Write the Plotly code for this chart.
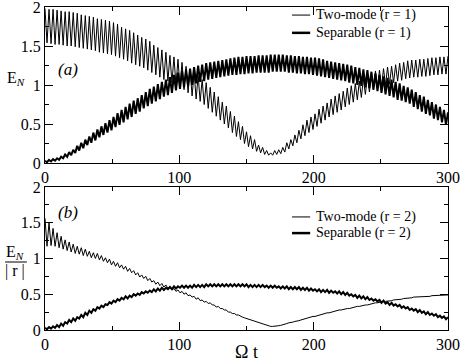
import numpy as np
import plotly.graph_objects as go
from plotly.subplots import make_subplots

# time grid: peaks sit on t = 0, 3, ..., 300 and troughs half way between
t = np.arange(0, 300.01, 1.5)

# (a) two-mode, r = 1 (thin)
two_mode_r1_peaks = [
    1.98, 1.97, 1.97, 1.96, 1.95, 1.94, 1.94, 1.93, 1.92, 1.90,
    1.89, 1.88, 1.87, 1.85, 1.84, 1.83, 1.82, 1.80, 1.78, 1.74,
    1.72, 1.70, 1.67, 1.64, 1.61, 1.59, 1.56, 1.51, 1.48, 1.45,
    1.42, 1.38, 1.36, 1.33, 1.29, 1.24, 1.20, 1.16, 1.12, 1.07,
    1.03, 0.97, 0.91, 0.85, 0.78, 0.73, 0.66, 0.60, 0.53, 0.47,
    0.40, 0.35, 0.30, 0.23, 0.20, 0.16, 0.13, 0.16, 0.17, 0.20,
    0.26, 0.30, 0.36, 0.42, 0.49, 0.55, 0.59, 0.63, 0.69, 0.73,
    0.77, 0.82, 0.86, 0.89, 0.92, 0.96, 0.99, 1.02, 1.05, 1.08,
    1.12, 1.15, 1.18, 1.19, 1.21, 1.23, 1.24, 1.26, 1.28, 1.29,
    1.31, 1.32, 1.32, 1.33, 1.33, 1.34, 1.35, 1.35, 1.36, 1.36,
    1.37]
two_mode_r1_troughs = [
    1.54, 1.53, 1.52, 1.52, 1.51, 1.50, 1.50, 1.49, 1.48, 1.47,
    1.46, 1.45, 1.44, 1.42, 1.41, 1.40, 1.39, 1.37, 1.35, 1.33,
    1.31, 1.28, 1.26, 1.24, 1.22, 1.19, 1.16, 1.13, 1.10, 1.07,
    1.05, 1.03, 1.00, 0.97, 0.94, 0.90, 0.86, 0.82, 0.79, 0.75,
    0.70, 0.65, 0.60, 0.55, 0.50, 0.45, 0.39, 0.34, 0.30, 0.25,
    0.21, 0.18, 0.15, 0.13, 0.11, 0.10, 0.10, 0.11, 0.12, 0.14,
    0.18, 0.22, 0.26, 0.31, 0.35, 0.39, 0.43, 0.47, 0.51, 0.55,
    0.59, 0.62, 0.65, 0.68, 0.72, 0.75, 0.78, 0.81, 0.84, 0.88,
    0.91, 0.94, 0.96, 0.98, 1.00, 1.01, 1.03, 1.05, 1.06, 1.08,
    1.09, 1.10, 1.10, 1.11, 1.11, 1.12, 1.13, 1.13, 1.14, 1.14]

# (a) separable, r = 1 (thick)
separable_r1_peaks = [
    0.03, 0.04, 0.05, 0.06, 0.08, 0.11, 0.14, 0.17, 0.22, 0.26,
    0.30, 0.34, 0.39, 0.43, 0.47, 0.51, 0.55, 0.59, 0.64, 0.68,
    0.72, 0.76, 0.80, 0.83, 0.87, 0.91, 0.95, 0.98, 1.01, 1.04,
    1.07, 1.10, 1.13, 1.16, 1.18, 1.20, 1.21, 1.23, 1.25, 1.26,
    1.28, 1.29, 1.30, 1.31, 1.32, 1.33, 1.34, 1.35, 1.36, 1.36,
    1.37, 1.37, 1.37, 1.38, 1.38, 1.38, 1.39, 1.39, 1.39, 1.39,
    1.38, 1.38, 1.37, 1.37, 1.36, 1.36, 1.35, 1.35, 1.34, 1.33,
    1.31, 1.30, 1.29, 1.28, 1.27, 1.26, 1.25, 1.23, 1.22, 1.20,
    1.19, 1.17, 1.15, 1.13, 1.11, 1.09, 1.07, 1.04, 1.02, 0.99,
    0.97, 0.94, 0.91, 0.87, 0.85, 0.81, 0.78, 0.75, 0.72, 0.68,
    0.65]
separable_r1_troughs = [
    0.01, 0.02, 0.03, 0.04, 0.06, 0.08, 0.10, 0.13, 0.16, 0.19,
    0.23, 0.26, 0.29, 0.33, 0.36, 0.39, 0.42, 0.46, 0.49, 0.52,
    0.56, 0.59, 0.63, 0.66, 0.70, 0.73, 0.76, 0.79, 0.82, 0.85,
    0.87, 0.90, 0.93, 0.95, 0.97, 0.99, 1.00, 1.02, 1.04, 1.05,
    1.07, 1.08, 1.09, 1.10, 1.11, 1.12, 1.13, 1.13, 1.14, 1.14,
    1.15, 1.15, 1.16, 1.16, 1.16, 1.16, 1.17, 1.17, 1.17, 1.17,
    1.16, 1.16, 1.15, 1.15, 1.14, 1.14, 1.13, 1.12, 1.11, 1.10,
    1.09, 1.08, 1.07, 1.06, 1.05, 1.03, 1.02, 1.00, 0.99, 0.97,
    0.96, 0.94, 0.92, 0.90, 0.88, 0.86, 0.84, 0.81, 0.80, 0.78,
    0.76, 0.72, 0.69, 0.66, 0.63, 0.61, 0.57, 0.55, 0.52, 0.49]

# (b) two-mode, r = 2 (thin), E_N / |r|
two_mode_r2_peaks = [
    1.56, 1.50, 1.42, 1.36, 1.31, 1.26, 1.23, 1.20, 1.17, 1.15,
    1.13, 1.10, 1.08, 1.07, 1.04, 1.01, 0.99, 0.96, 0.94, 0.91,
    0.89, 0.86, 0.83, 0.80, 0.77, 0.75, 0.72, 0.69, 0.67, 0.65,
    0.63, 0.61, 0.58, 0.56, 0.54, 0.52, 0.49, 0.47, 0.45, 0.42,
    0.40, 0.38, 0.35, 0.33, 0.30, 0.28, 0.25, 0.23, 0.21, 0.18,
    0.16, 0.14, 0.12, 0.10, 0.08, 0.06, 0.05, 0.05, 0.06, 0.07,
    0.09, 0.10, 0.12, 0.13, 0.15, 0.16, 0.18, 0.19, 0.21, 0.22,
    0.24, 0.25, 0.26, 0.28, 0.29, 0.30, 0.31, 0.32, 0.33, 0.34,
    0.35, 0.36, 0.38, 0.39, 0.40, 0.40, 0.41, 0.42, 0.43, 0.44,
    0.45, 0.45, 0.46, 0.47, 0.47, 0.47, 0.48, 0.48, 0.48, 0.49,
    0.49]
two_mode_r2_troughs = [
    1.17, 1.18, 1.17, 1.15, 1.13, 1.11, 1.09, 1.07, 1.06, 1.04,
    1.03, 1.01, 1.00, 0.98, 0.96, 0.94, 0.91, 0.89, 0.87, 0.85,
    0.82, 0.80, 0.77, 0.74, 0.72, 0.69, 0.67, 0.64, 0.62, 0.60,
    0.58, 0.56, 0.54, 0.52, 0.50, 0.48, 0.46, 0.43, 0.41, 0.39,
    0.37, 0.35, 0.32, 0.30, 0.28, 0.25, 0.23, 0.21, 0.19, 0.17,
    0.15, 0.13, 0.11, 0.09, 0.07, 0.055, 0.05, 0.055, 0.065, 0.08,
    0.10, 0.11, 0.12, 0.14, 0.16, 0.17, 0.19, 0.20, 0.21, 0.23,
    0.24, 0.26, 0.27, 0.28, 0.29, 0.30, 0.31, 0.33, 0.34, 0.35,
    0.36, 0.37, 0.38, 0.39, 0.40, 0.41, 0.42, 0.43, 0.43, 0.44,
    0.45, 0.46, 0.46, 0.47, 0.47, 0.47, 0.48, 0.48, 0.48, 0.49]

# (b) separable, r = 2 (thick), E_N / |r|
separable_r2_peaks = [
    0.03, 0.04, 0.05, 0.07, 0.09, 0.11, 0.14, 0.16, 0.18, 0.21,
    0.24, 0.27, 0.29, 0.32, 0.34, 0.36, 0.39, 0.41, 0.43, 0.45,
    0.47, 0.48, 0.50, 0.51, 0.53, 0.54, 0.55, 0.57, 0.58, 0.59,
    0.59, 0.60, 0.61, 0.61, 0.62, 0.62, 0.62, 0.63, 0.63, 0.63,
    0.64, 0.64, 0.64, 0.64, 0.64, 0.64, 0.64, 0.64, 0.64, 0.64,
    0.64, 0.63, 0.63, 0.63, 0.63, 0.62, 0.62, 0.62, 0.61, 0.61,
    0.61, 0.60, 0.60, 0.60, 0.59, 0.59, 0.58, 0.57, 0.57, 0.56,
    0.56, 0.55, 0.54, 0.54, 0.53, 0.52, 0.50, 0.49, 0.48, 0.47,
    0.46, 0.44, 0.43, 0.42, 0.41, 0.39, 0.38, 0.36, 0.35, 0.33,
    0.32, 0.30, 0.29, 0.28, 0.26, 0.25, 0.23, 0.22, 0.20, 0.19,
    0.18]
separable_r2_troughs = [
    0.01, 0.02, 0.03, 0.04, 0.06, 0.09, 0.11, 0.13, 0.16, 0.18,
    0.21, 0.24, 0.27, 0.30, 0.32, 0.35, 0.37, 0.39, 0.41, 0.43,
    0.44, 0.46, 0.48, 0.49, 0.51, 0.52, 0.53, 0.54, 0.55, 0.56,
    0.57, 0.57, 0.58, 0.59, 0.59, 0.59, 0.59, 0.60, 0.60, 0.60,
    0.61, 0.61, 0.61, 0.61, 0.61, 0.61, 0.61, 0.61, 0.61, 0.61,
    0.60, 0.60, 0.60, 0.60, 0.60, 0.59, 0.59, 0.59, 0.58, 0.58,
    0.57, 0.57, 0.57, 0.56, 0.56, 0.55, 0.55, 0.54, 0.53, 0.53,
    0.52, 0.52, 0.51, 0.50, 0.49, 0.48, 0.47, 0.45, 0.44, 0.43,
    0.42, 0.41, 0.40, 0.38, 0.37, 0.35, 0.34, 0.33, 0.31, 0.30,
    0.28, 0.27, 0.25, 0.24, 0.22, 0.21, 0.20, 0.18, 0.17, 0.15]

legend_a = ["Two-mode (r = 1)", "Separable (r = 1)"]
legend_b = ["Two-mode (r = 2)", "Separable (r = 2)"]

FONT = '"Times New Roman", "Liberation Serif", Times, serif'


def zigzag(peaks, troughs):
    # interleave the read-off maxima and minima of the fast oscillation
    y = np.empty(len(peaks) + len(troughs))
    y[0::2] = peaks
    y[1::2] = troughs
    return y


def label(fig, x, y, text, size=16, xanchor="center"):
    fig.add_annotation(x=x, y=y, xref="paper", yref="paper", text=text,
                       showarrow=False, xanchor=xanchor, yanchor="middle",
                       font=dict(family=FONT, size=size, color="black"))


fig = make_subplots(rows=2, cols=1)

fig.add_trace(go.Scatter(x=t, y=zigzag(two_mode_r1_peaks, two_mode_r1_troughs),
                         mode="lines", line=dict(color="black", width=1)), row=1, col=1)
fig.add_trace(go.Scatter(x=t, y=zigzag(separable_r1_peaks, separable_r1_troughs),
                         mode="lines", line=dict(color="black", width=2)), row=1, col=1)
fig.add_trace(go.Scatter(x=t, y=zigzag(two_mode_r2_peaks, two_mode_r2_troughs),
                         mode="lines", line=dict(color="black", width=1)), row=2, col=1)
fig.add_trace(go.Scatter(x=t, y=zigzag(separable_r2_peaks, separable_r2_troughs),
                         mode="lines", line=dict(color="black", width=2)), row=2, col=1)

axis_style = dict(showline=True, linecolor="black", linewidth=1, mirror="ticks",
                  ticks="inside", ticklen=8, tickcolor="black", showgrid=False,
                  zeroline=False, automargin=False, ticklabeloverflow="allow",
                  tickfont=dict(family=FONT, size=16, color="black"))
x_style = dict(axis_style, range=[0, 300], tick0=0, dtick=100,
               minor=dict(dtick=50, ticklen=4, ticks="inside", tickcolor="black"))
y_style = dict(axis_style, range=[0, 2], tick0=0, dtick=0.5,
               minor=dict(dtick=0.25, ticklen=4, ticks="inside", tickcolor="black"))

fig.update_layout(
    width=463, height=362,
    margin=dict(l=45, r=15, t=7, b=32),
    plot_bgcolor="white", paper_bgcolor="white",
    showlegend=False,
    font=dict(family=FONT, color="black"),
    xaxis=dict(x_style, domain=[0, 1]),
    yaxis=dict(y_style, domain=[0.517, 1]),
    xaxis2=dict(x_style, domain=[0, 1]),
    yaxis2=dict(y_style, domain=[0, 0.443]),
)

# hand-drawn legends (short line samples like the original)
for labels, rows_y in [(legend_a, [0.975, 0.920]), (legend_b, [0.350, 0.300])]:
    for text, yy, w in zip(labels, rows_y, [1, 2.5]):
        fig.add_shape(type="line", xref="paper", yref="paper",
                      x0=0.613, x1=0.658, y0=yy, y1=yy,
                      line=dict(color="black", width=w))
        label(fig, 0.668, yy, text, size=14, xanchor="left")

# panel tags
label(fig, 0.057, 0.805, "<i>(a)</i>", size=17)
label(fig, 0.057, 0.365, "<i>(b)</i>", size=17)

# axis titles
label(fig, -0.072, 0.780, "E<sub><i>N</i></sub>")
label(fig, -0.074, 0.241, "E<sub><i>N</i></sub>")
fig.add_shape(type="line", xref="paper", yref="paper", x0=-0.099, x1=-0.045,
              y0=0.2105, y1=0.2105, line=dict(color="black", width=1))
label(fig, -0.074, 0.183, "|&nbsp;r&nbsp;|")
label(fig, 0.499, -0.069, "Ω t", size=18)

fig.write_html("out.html", config={"displayModeBar": False},
               post_script="document.body.style.margin = '0';")
